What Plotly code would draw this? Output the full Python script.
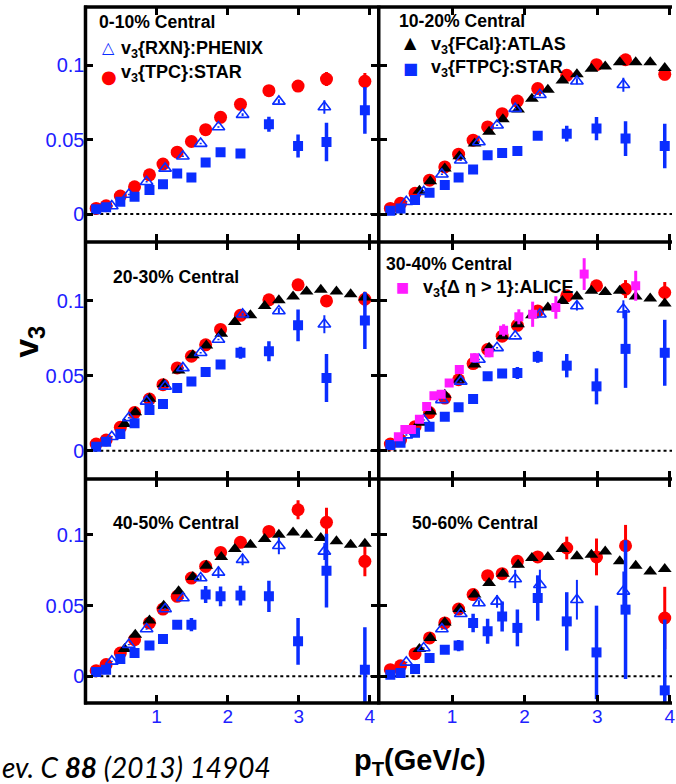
import plotly.graph_objects as go

W, H = 676, 784

# ---------------- data ----------------
pt_star = [0.15, 0.29, 0.49, 0.69, 0.90, 1.09, 1.29, 1.49, 1.69, 1.90, 2.18, 2.58, 2.99, 3.39, 3.93]
pt_phenix = [0.37, 0.61, 0.86, 1.12, 1.37, 1.62, 1.87, 2.21, 2.72, 3.36]
pt_atlas = [0.55, 0.70, 0.90, 1.10, 1.31, 1.51, 1.70, 1.91, 2.10, 2.32, 2.52, 2.72, 2.92, 3.11, 3.31, 3.53, 3.73, 3.93]
pt_alice = [0.26, 0.35, 0.44, 0.55, 0.65, 0.75, 0.85, 0.96, 1.10, 1.31, 1.51, 1.71, 1.92, 2.11, 2.43, 2.82, 3.53]

centralities = ["0-10%", "10-20%", "20-30%", "30-40%", "40-50%", "50-60%"]

# STAR v3{TPC}
tpc = {
    "0-10%": [0.0038, 0.0056, 0.0121, 0.0183, 0.0264, 0.0336, 0.0416, 0.0488, 0.0568, 0.0651, 0.0738, 0.0830, 0.0861, 0.0908, 0.0893],
    "10-20%": [0.0038, 0.0072, 0.0140, 0.0228, 0.0317, 0.0403, 0.0497, 0.0586, 0.0675, 0.0760, 0.0844, 0.0933, 0.1005, 0.1038, 0.0940],
    "20-30%": [0.0045, 0.0072, 0.0157, 0.0255, 0.0345, 0.0441, 0.0553, 0.0631, 0.0707, 0.0810, 0.0904, 0.1007, 0.1107, 0.1000, 0.1011],
    "30-40%": [0.0045, 0.0072, 0.0161, 0.0255, 0.0352, 0.0474, 0.0582, 0.0676, 0.0765, 0.0837, 0.0933, 0.1034, 0.1101, 0.1079, 0.1056],
    "40-50%": [0.0040, 0.0083, 0.0165, 0.0259, 0.0377, 0.0475, 0.0565, 0.0694, 0.0776, 0.0875, 0.0946, 0.1023, 0.1176, 0.1087, 0.0812],
    "50-60%": [0.0047, 0.0075, 0.0160, 0.0271, 0.0377, 0.0475, 0.0577, 0.0711, 0.0725, 0.0812, 0.0843, 0.0906, 0.0843, 0.0922, 0.0412],
}
tpc_err = {
    "0-10%": [0.0008] * 9 + [0.001, 0.0012, 0.0015, 0.002, 0.0047, 0.0056],
    "10-20%": [0.0008] * 9 + [0.001, 0.0012, 0.0015, 0.002, 0.003, 0.004],
    "20-30%": [0.0008] * 9 + [0.001, 0.0012, 0.0015, 0.002, 0.004, 0.005],
    "30-40%": [0.0008] * 9 + [0.001, 0.0012, 0.0015, 0.003, 0.006, 0.007],
    "40-50%": [0.0008] * 9 + [0.001, 0.0015, 0.003, 0.0067, 0.0103, 0.0106],
    "50-60%": [0.0008] * 9 + [0.0015, 0.002, 0.008, 0.013, 0.0147, 0.022],
}

# PHENIX v3{RXN}
rxn = {
    "0-10%": [0.0054, 0.0132, 0.0217, 0.0307, 0.0389, 0.0474, 0.0586, 0.0669, 0.0758, 0.0720],
    "10-20%": [0.0083, 0.0150, 0.0268, 0.0362, 0.0485, 0.0597, 0.0709, 0.0803, 0.0893, 0.0870],
    "20-30%": [0.0094, 0.0220, 0.0330, 0.0430, 0.0553, 0.0654, 0.0743, 0.0911, 0.0933, 0.0844],
    "30-40%": [0.0105, 0.0206, 0.0340, 0.0463, 0.0609, 0.0687, 0.0765, 0.0911, 0.0966, 0.0944],
    "40-50%": [0.0106, 0.0224, 0.0334, 0.0475, 0.0553, 0.0694, 0.0734, 0.0824, 0.0922, 0.0882],
    "50-60%": [0.0099, 0.0200, 0.0334, 0.0442, 0.0518, 0.0529, 0.0687, 0.0647, 0.0541, 0.0600],
}
rxn_err = {
    "0-10%": [0.0005] * 7 + [0.001, 0.0015, 0.0045],
    "10-20%": [0.0005] * 7 + [0.001, 0.002, 0.0047],
    "20-30%": [0.0005] * 7 + [0.001, 0.002, 0.006],
    "30-40%": [0.0005] * 7 + [0.0015, 0.003, 0.006],
    "40-50%": [0.0005] * 5 + [0.002, 0.004, 0.004, 0.006, 0.006],
    "50-60%": [0.0005] * 4 + [0.002, 0.0045, 0.0065, 0.0106, 0.014, 0.014],
}

# ATLAS v3{FCal}
fcal = {
    "10-20%": [0.0156, 0.0221, 0.0307, 0.0389, 0.0474, 0.0553, 0.0638, 0.0703, 0.0776, 0.0837, 0.0899, 0.0940, 0.0978, 0.0993, 0.1022, 0.1022, 0.1022, 0.0982],
    "20-30%": [0.0179, 0.0258, 0.0347, 0.0446, 0.0535, 0.0638, 0.0703, 0.0781, 0.0859, 0.0904, 0.0966, 0.1005, 0.1029, 0.1063, 0.1074, 0.1063, 0.1045, 0.1023],
    "30-40%": [0.0188, 0.0262, 0.0374, 0.0474, 0.0575, 0.0687, 0.0765, 0.0844, 0.0904, 0.0956, 0.1000, 0.1029, 0.1067, 0.1060, 0.1067, 0.1029, 0.1016, 0.0982],
    "40-50%": [0.0193, 0.0294, 0.0395, 0.0499, 0.0600, 0.0701, 0.0781, 0.0843, 0.0899, 0.0929, 0.0970, 0.1000, 0.1016, 0.1000, 0.0977, 0.0953, 0.0929, 0.0936],
    "50-60%": [0.0193, 0.0271, 0.0381, 0.0475, 0.0577, 0.0659, 0.0725, 0.0788, 0.0835, 0.0843, 0.0899, 0.0847, 0.0859, 0.0882, 0.0812, 0.0781, 0.0741, 0.0758],
}

# STAR v3{FTPC}
ftpc = {
    "0-10%": [0.0032, 0.0045, 0.0083, 0.0116, 0.0161, 0.0201, 0.0273, 0.0246, 0.0347, 0.0416, 0.0407, 0.0604, 0.0458, 0.0485, 0.0698],
    "10-20%": [0.0022, 0.0038, 0.0094, 0.0143, 0.0195, 0.0246, 0.0300, 0.0396, 0.0411, 0.0425, 0.0526, 0.0541, 0.0575, 0.0508, 0.0458],
    "20-30%": [0.0027, 0.0060, 0.0112, 0.0184, 0.0273, 0.0313, 0.0419, 0.0463, 0.0526, 0.0575, 0.0654, 0.0664, 0.0837, 0.0486, 0.0870],
    "30-40%": [0.0038, 0.0054, 0.0121, 0.0161, 0.0228, 0.0291, 0.0345, 0.0497, 0.0515, 0.0519, 0.0627, 0.0568, 0.0430, 0.0680, 0.0654],
    "40-50%": [0.0031, 0.0047, 0.0123, 0.0165, 0.0217, 0.0264, 0.0365, 0.0365, 0.0577, 0.0565, 0.0570, 0.0565, 0.0247, 0.0746, 0.0047],
    "50-60%": [0.0012, 0.0024, 0.0052, 0.0130, 0.0188, 0.0217, 0.0377, 0.0318, 0.0423, 0.0342, 0.0553, 0.0388, 0.0169, 0.0471, -0.0099],
}
ftpc_err = {
    "0-10%": [0.0005] * 10 + [0.001, 0.005, 0.0078, 0.013, 0.0157],
    "10-20%": [0.0005] * 10 + [0.001, 0.0053, 0.0078, 0.0117, 0.015],
    "20-30%": [0.0005] * 8 + [0.0015, 0.003, 0.004, 0.0067, 0.0106, 0.016, 0.019],
    "30-40%": [0.0005] * 7 + [0.001, 0.003, 0.004, 0.004, 0.0078, 0.012, 0.026, 0.022],
    "40-50%": [0.0005] * 7 + [0.0047, 0.006, 0.007, 0.007, 0.011, 0.0165, 0.026, 0.030],
    "50-60%": [0.0005] * 5 + [0.004, 0.0065, 0.0088, 0.0106, 0.013, 0.016, 0.0206, 0.033, 0.049, 0.050],
}

# ALICE v3{|dEta|>1}, 30-40%
alice_30_40 = [0.0094, 0.0143, 0.0143, 0.0211, 0.0295, 0.0367, 0.0378, 0.0452, 0.0542, 0.0621, 0.0654, 0.0804, 0.0894, 0.0911, 0.0956, 0.1179, 0.1101]
alice_30_40_err = [0.001] * 8 + [0.002, 0.003, 0.003, 0.004, 0.005, 0.0084, 0.0075, 0.0106, 0.010]

y_ticks = [0, 0.05, 0.1]
y_ticktext = ["0", "0.05", "0.1"]
x_ticks = [1, 2, 3, 4]

# ---------------- styling ----------------
RED = "#ff0000"
BLUE = "#0a2dff"
BLACK = "#000000"
MAGENTA = "#ff1aff"
TICKBLUE = "#2020ff"
FONT = "Liberation Sans, Arial, sans-serif"

def px_x(p):
    return p / W

def px_y(p):
    return 1 - p / H

left_dom = [px_x(86), px_x(381)]
right_dom = [px_x(381), 1.0]
row_px = [(7, 242), (242, 479), (479, 703)]
YR = [-0.0188, 0.1393]
XR_LEFT = [0.0, 4.125]
XR_RIGHT = [-0.01, 4.03]

fig = go.Figure()

def add(cent, idx, x, y, err, name, symbol, color, size, ethick, lw=0):
    xa = "x" if idx == 1 else f"x{idx}"
    ya = "y" if idx == 1 else f"y{idx}"
    mk = dict(symbol=symbol, color=color, size=size)
    if lw:
        mk["line"] = dict(color=color, width=lw)
    else:
        mk["line"] = dict(width=0)
    fig.add_trace(go.Scatter(
        x=x, y=y, mode="markers", name=f"{name} {cent}", xaxis=xa, yaxis=ya,
        marker=mk,
        error_y=dict(type="data", array=err, visible=True, color=color, thickness=ethick, width=0),
        showlegend=False, hoverinfo="x+y",
    ))

for i, cent in enumerate(centralities):
    idx = i + 1
    add(cent, idx, pt_star, tpc[cent], tpc_err[cent], "v3{TPC}:STAR", "circle", RED, 13, 3)
    if cent in fcal:
        add(cent, idx, pt_atlas, fcal[cent], [0.0005] * len(fcal[cent]), "v3{FCal}:ATLAS", "triangle-up", BLACK, 12, 2)
    add(cent, idx, pt_phenix, rxn[cent], rxn_err[cent], "v3{RXN}:PHENIX", "triangle-up-open", BLUE, 11, 2, lw=1.6)
    add(cent, idx, pt_star, ftpc[cent], ftpc_err[cent], "v3{FTPC}:STAR", "square", BLUE, 10, 3.5)
    if cent == "30-40%":
        add(cent, idx, pt_alice, alice_30_40, alice_30_40_err, "v3{Δη>1}:ALICE", "square", MAGENTA, 9, 3)

layout = dict(
    width=W, height=H, margin=dict(l=0, r=0, t=0, b=0),
    paper_bgcolor="white", plot_bgcolor="white", showlegend=False,
    font=dict(family=FONT, color="black"),
)
shapes = []
for i in range(6):
    idx = i + 1
    row = i // 2
    col = i % 2
    top, bot = row_px[row]
    xk = "xaxis" if idx == 1 else f"xaxis{idx}"
    yk = "yaxis" if idx == 1 else f"yaxis{idx}"
    ya = "y" if idx == 1 else f"y{idx}"
    layout[xk] = dict(
        domain=left_dom if col == 0 else right_dom,
        range=XR_LEFT if col == 0 else XR_RIGHT,
        anchor=ya, showgrid=False, zeroline=False, showline=False,
        ticks="inside", ticklen=8, tickwidth=3, tickcolor="black", mirror="ticks",
        tickvals=x_ticks, ticktext=[str(v) for v in x_ticks],
        showticklabels=(row == 2),
        ticklabeloverflow="allow",
        tickfont=dict(family=FONT, size=19, color=TICKBLUE),
    )
    layout[yk] = dict(
        domain=[px_y(bot), px_y(top)], range=YR,
        anchor="x" if idx == 1 else f"x{idx}",
        showgrid=False, zeroline=False, showline=False,
        ticks="inside", ticklen=8, tickwidth=3, tickcolor="black",
        mirror="ticks" if col == 0 else False,
        tickvals=y_ticks, ticktext=y_ticktext,
        showticklabels=(col == 0),
        tickfont=dict(family=FONT, size=20, color=TICKBLUE),
    )
    xd = "x domain" if idx == 1 else f"x{idx} domain"
    shapes.append(dict(type="line", xref=xd, x0=0.03, x1=1, yref=ya, y0=0, y1=0,
                       line=dict(color="black", width=2, dash="dot"), layer="below"))

# panel frame lines (shared borders)
for yb in [7, 242, 479, 703]:
    shapes.append(dict(type="line", xref="paper", yref="paper", x0=px_x(84.5), x1=1.0,
                       y0=px_y(yb), y1=px_y(yb), line=dict(color="black", width=3.5)))
for xb in [86, 381]:
    shapes.append(dict(type="line", xref="paper", yref="paper", x0=px_x(xb), x1=px_x(xb),
                       y0=px_y(5.5), y1=px_y(704.5), line=dict(color="black", width=3.5)))
layout["shapes"] = shapes

ann = []
def text(t, x, y, size=17.6, bold=True, color="black", xanchor="left", family=FONT, angle=0):
    ann.append(dict(text=(f"<b>{t}</b>" if bold else t), x=px_x(x), y=px_y(y), xref="paper", yref="paper",
                    xanchor=xanchor, yanchor="middle", showarrow=False, textangle=angle,
                    font=dict(family=family, size=size, color=color)))

text("0-10% Central", 98, 22)
text("10-20% Central", 399, 21)
text("20-30% Central", 112, 277)
text("30-40% Central", 386, 264)
text("40-50% Central", 112, 523)
text("50-60% Central", 412, 523)

text("v<sub>3</sub>{RXN}:PHENIX", 120, 49, size=18)
text("v<sub>3</sub>{TPC}:STAR", 120, 74, size=18)
text("v<sub>3</sub>{FCal}:ATLAS", 432, 45, size=18)
text("v<sub>3</sub>{FTPC}:STAR", 432, 69, size=18)
text("v<sub>3</sub>{Δ η > 1}:ALICE", 424, 288, size=18)

sym_font = "DejaVu Sans"
text("△", 109, 47, size=16, bold=False, color=BLUE, xanchor="center", family=sym_font)
text("●", 110, 77, size=18, bold=False, color=RED, xanchor="center", family=sym_font)
text("▲", 413, 43, size=16, bold=False, color=BLACK, xanchor="center", family=sym_font)
text("■", 413, 68, size=16, bold=False, color=BLUE, xanchor="center", family=sym_font)
text("■", 405, 287, size=14, bold=False, color=MAGENTA, xanchor="center", family=sym_font)

text("v<sub>3</sub>", 28, 342, size=34, angle=-90, xanchor="center")
text("p<sub>T</sub>(GeV/c)", 423, 762, size=29, xanchor="center")
text("<i>ev. C <b>88</b> (2013) 14904</i>", 0, 767, size=28, bold=False, family="Lato, sans-serif")

layout["annotations"] = ann
fig.update_layout(**layout)
fig.write_html("out.html")
